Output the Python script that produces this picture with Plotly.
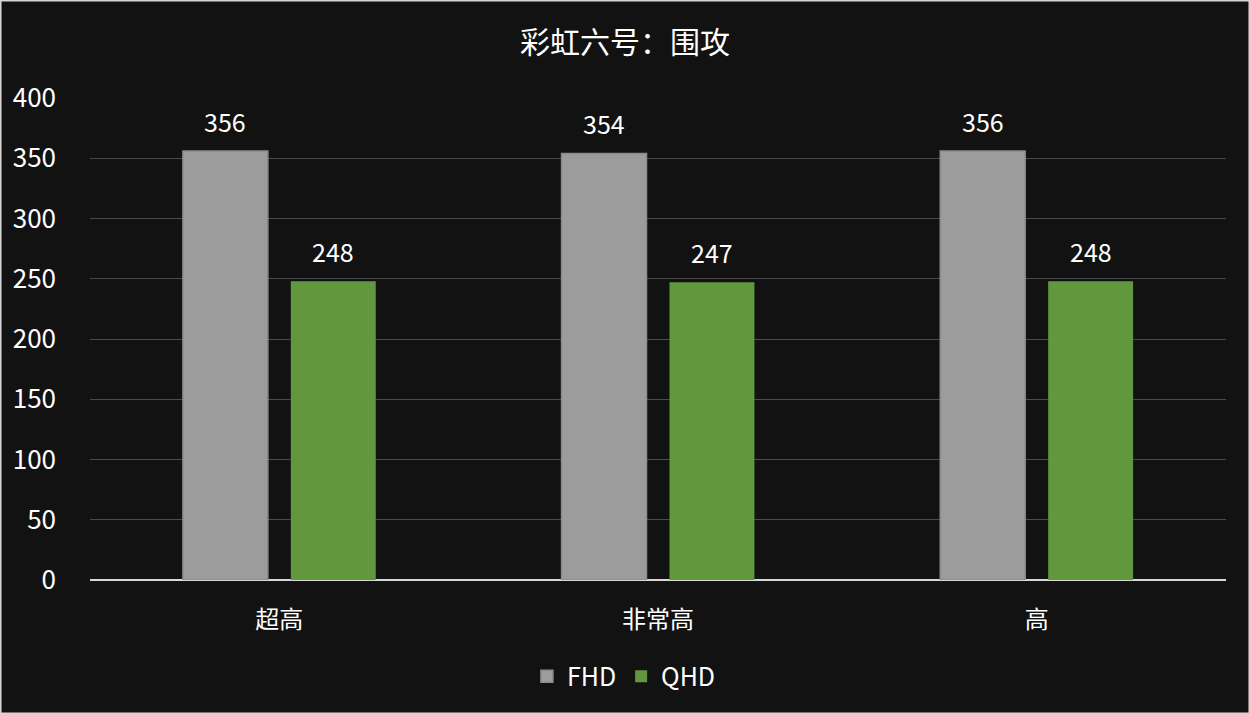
import plotly.graph_objects as go

categories = ["超高", "非常高", "高"]
fhd_values = [356, 354, 356]
qhd_values = [248, 247, 248]
series_names = ["FHD", "QHD"]
title_text = "彩虹六号：围攻"
y_ticks = [0, 50, 100, 150, 200, 250, 300, 350, 400]

FONT = "Noto Sans CJK SC, Noto Sans, sans-serif"
LABEL_FONT = dict(color="white", size=25, family=FONT)

fig = go.Figure()
fig.add_trace(go.Bar(
    name=series_names[0], x=categories, y=fhd_values,
    marker=dict(color="#9c9c9c", line=dict(color="#8c8c8c", width=1.5)),
))
fig.add_trace(go.Bar(
    name=series_names[1], x=categories, y=qhd_values,
    marker=dict(color="#62983d", line=dict(width=0)),
))

# value labels above each bar, positioned at the bar's data value
SLOT_SHIFT = 54
for vals, shift in ((fhd_values, -SLOT_SHIFT), (qhd_values, SLOT_SHIFT)):
    for cat, v in zip(categories, vals):
        fig.add_annotation(x=cat, y=v, text=str(v), showarrow=False,
                           xshift=shift, yshift=30, yanchor="middle",
                           font=LABEL_FONT)

fig.update_layout(
    width=1250, height=714, autosize=False,
    paper_bgcolor="#121212", plot_bgcolor="#121212",
    font=dict(family=FONT, color="white", size=24),
    title=dict(text=title_text, x=0.5, xanchor="center", y=0.94, yanchor="middle",
               font=dict(size=30, color="white", family=FONT)),
    margin=dict(l=90, r=24, t=98, b=134, autoexpand=False),
    barmode="group", bargap=0.43, bargroupgap=0.213,
    showlegend=True,
    legend=dict(orientation="h", x=0.47, xanchor="center",
                y=-0.2, yanchor="middle",
                font=dict(size=25, color="white", family=FONT),
                itemwidth=30, bgcolor="rgba(0,0,0,0)"),
    xaxis=dict(showgrid=False, showline=False, ticks="", ticklen=0,
               ticklabelstandoff=23,
               tickfont=dict(size=24, color="white", family=FONT), zeroline=False),
    yaxis=dict(range=[0, 400], tickvals=y_ticks, showgrid=True, gridcolor="#4a4a4a",
               gridwidth=1, zeroline=True, zerolinecolor="#d9d9d9", zerolinewidth=2,
               tickfont=dict(size=26, color="white", family=FONT), ticks="",
               ticklabelstandoff=33, showline=False),
)
fig.add_shape(type="rect", xref="paper", yref="paper", x0=-0.0792, x1=1.0211, y0=-0.278, y1=1.2033,
              line=dict(color="#d6d6d6", width=3), fillcolor="rgba(0,0,0,0)", layer="above")
fig.write_html("out.html", config={"displayModeBar": False},
               post_script="document.body.style.margin='0';")
